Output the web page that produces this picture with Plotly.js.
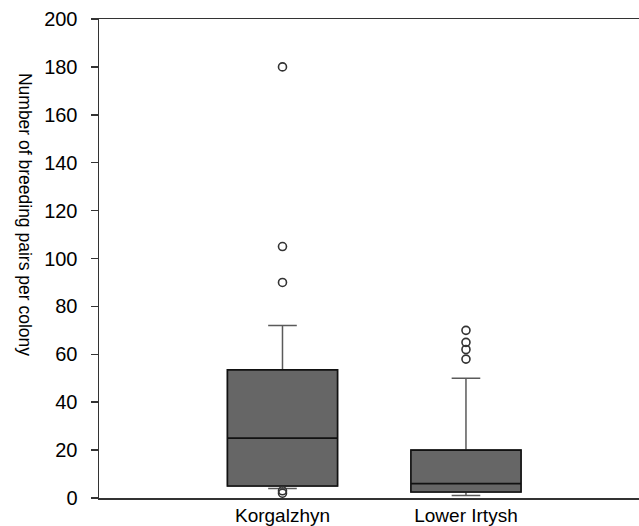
<!DOCTYPE html>
<html>
<head>
<meta charset="utf-8">
<script src="https://cdn.plot.ly/plotly-3.0.1.min.js"></script>
<style>html,body{margin:0;padding:0;background:#fff;}#chart{width:639px;height:526px;}</style>
</head>
<body>
<div id="chart"></div>
<script>
var categories = ["Korgalzhyn", "Lower Irtysh"];
var positions = [1, 2];
var q1 = [5, 2.5];
var median = [25, 6];
var q3 = [53.5, 20];
var lowerWhisker = [4, 1];
var upperWhisker = [72, 50];
var outliersKorgalzhyn = [180, 105, 90, 3, 2];
var outliersLowerIrtysh = [70, 65, 62, 58];
var yTicks = [0, 20, 40, 60, 80, 100, 120, 140, 160, 180, 200];

var font = "Liberation Sans, Arial, sans-serif";

var whiskers = {
  type: "box", x: positions, q1: q1, median: median, q3: q3,
  lowerfence: lowerWhisker, upperfence: upperWhisker,
  width: 0.6, whiskerwidth: 0.26,
  fillcolor: "#666666", line: {color: "#5a5a5a", width: 1.5},
  boxpoints: false, hoverinfo: "skip", showlegend: false
};
var boxes = {
  type: "box", x: positions, q1: q1, median: median, q3: q3,
  lowerfence: q1, upperfence: q3,
  width: 0.6, whiskerwidth: 0,
  fillcolor: "#666666", line: {color: "#111111", width: 1.6},
  boxpoints: false, hoverinfo: "skip", showlegend: false
};
function outTrace(pos, vals) {
  return {
    type: "scatter", mode: "markers",
    x: vals.map(function(){ return pos; }), y: vals,
    marker: {symbol: "circle-open", size: 8, color: "#333333", line: {width: 1.6, color: "#333333"}},
    hoverinfo: "skip", showlegend: false
  };
}

var layout = {
  width: 639, height: 526,
  margin: {l: 99, r: 0, t: 19, b: 28},
  paper_bgcolor: "#fff", plot_bgcolor: "#fff",
  font: {family: font, size: 18, color: "#000"},
  xaxis: {
    range: [0, 2.943], tickmode: "array", tickvals: positions, ticktext: categories,
    showgrid: false, zeroline: false, showline: true, mirror: true,
    linecolor: "#333", linewidth: 1.5, ticks: "", tickfont: {size: 19, family: font, color: "#000"}
  },
  yaxis: {
    range: [0, 200], tickmode: "array", tickvals: yTicks,
    showgrid: false, zeroline: false, showline: true,
    linecolor: "#333", linewidth: 1.5, ticks: "outside", ticklen: 7, tickwidth: 1.5, tickcolor: "#333",
    ticklabelstandoff: 9,
    tickfont: {size: 20, family: font, color: "#000"}
  },
  annotations: [{
    text: "Number of breeding pairs per colony", xref: "paper", yref: "paper",
    x: -0.137, y: 0.593, xanchor: "center", yanchor: "middle", textangle: 90,
    showarrow: false, font: {size: 17.5, family: font, color: "#000"}
  }]
};

Plotly.newPlot("chart", [whiskers, boxes, outTrace(1, outliersKorgalzhyn), outTrace(2, outliersLowerIrtysh)], layout, {displayModeBar: false, staticPlot: true});
</script>
</body>
</html>
